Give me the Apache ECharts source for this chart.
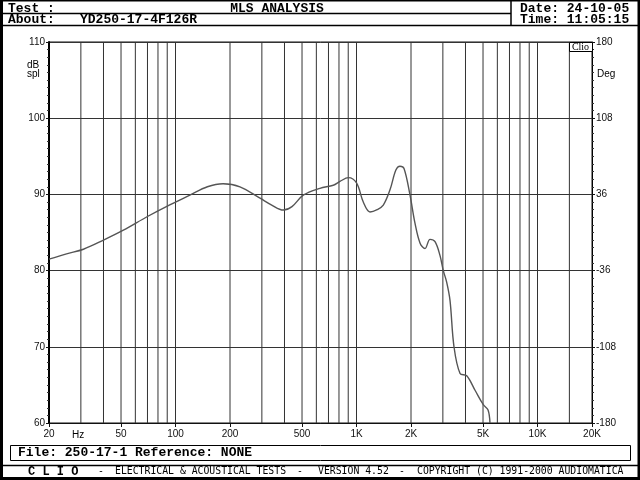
<!DOCTYPE html>
<html>
<head>
<meta charset="utf-8">
<script src="https://cdn.jsdelivr.net/npm/echarts@6/dist/echarts.min.js"></script>
<style>html,body{margin:0;padding:0;background:#fff}#c{width:640px;height:480px}</style>
</head>
<body>
<div id="c"></div>
<script>
// Frequency response data (Hz, dB SPL)
const freqs = [20,25,31,40,51.5,70,89,120,150,183,227,293,340,394,440,508,628,744,810,902,1000,1090,1187,1300,1406,1531,1650,1738,1830,1975,2105,2245,2390,2547,2715,2891,3017,3148,3285,3456,3733,4064,4517,5018,5330,5462];
const spl = [81.5,82.2,82.8,84.0,85.3,87.1,88.4,89.9,91.0,91.4,91.0,89.5,88.6,87.95,88.4,89.9,90.8,91.2,91.7,92.2,91.5,89.0,87.7,88.0,88.6,90.6,93.2,93.7,93.4,89.9,86.2,83.6,82.9,84.1,83.8,82.0,80.0,78.5,76.1,70.0,66.5,66.2,64.3,62.4,61.7,60.0];
// Axis tick labels
const xTickVals = [20,50,100,200,500,1000,2000,5000,10000,20000];
const xTickLabels = ['20','50','100','200','500','1K','2K','5K','10K','20K'];
const gridFreqs = [30,40,50,60,70,80,90,100,200,300,400,500,600,700,800,900,1000,2000,3000,4000,5000,6000,7000,8000,9000,10000,15000];
const yLeft = {min:60, max:110, interval:10};
const yRight = {min:-180, max:180, interval:72};
// Header / footer texts
const titleText = 'MLS ANALYSIS';
const aboutText = 'YD250-17-4F126R';
const dateText = 'Date: 24-10-05';
const timeText = 'Time: 11:05:15';
const fileText = 'File: 250-17-1 Reference: NONE';

const chart = echarts.init(document.getElementById('c'), null, {renderer:'canvas'});
const mono = 'bold 13px "Liberation Mono"';
const small = '9.8px "DejaVu Sans Mono"';

const labelMap = {};
xTickVals.forEach((v,i)=>labelMap[v]=xTickLabels[i]);

function txt(x,y,text,font,align){
  return {type:'text', x:x, y:y, z:100, silent:true,
    style:{text:text, font:font, fill:'#000', textAlign:align||'left', textVerticalAlign:'middle'}};
}
function ln(x1,y1,x2,y2,w){
  return {type:'line', z:100, silent:true, shape:{x1:x1,y1:y1,x2:x2,y2:y2}, style:{stroke:'#000', lineWidth:w||1}};
}
function box(x,y,w,h){
  return {type:'rect', z:101, silent:true, shape:{x:x,y:y,width:w,height:h}, style:{fill:'#000'}};
}

const gridSeries = gridFreqs.map(f=>({
  type:'line', yAxisIndex:0, data:[[f,yLeft.min],[f,yLeft.max]],
  showSymbol:false, silent:true, z:1,
  lineStyle:{color:'#333', width:1}
}));

chart.setOption({
  backgroundColor:'#fff',
  animation:false,
  grid:{left:49, right:48, top:42, bottom:57, show:true, borderColor:'#111', borderWidth:1, backgroundColor:'#fff'},
  xAxis:{
    type:'log', logBase:10, min:20, max:20000,
    axisLine:{show:true, onZero:false, lineStyle:{color:'#111', width:1}},
    axisTick:{show:true, length:4, inside:false, customValues:xTickVals, lineStyle:{color:'#111'}},
    axisLabel:{customValues:xTickVals, formatter:v=>labelMap[v]!==undefined?labelMap[v]:'', color:'#111', fontSize:10, fontFamily:'Liberation Sans', margin:6},
    splitLine:{show:false}
  },
  yAxis:[{
    type:'value', min:yLeft.min, max:yLeft.max, interval:yLeft.interval, position:'left',
    axisLine:{show:true, onZero:false, lineStyle:{color:'#000', width:2}},
    axisTick:{show:true, inside:false, length:3, lineStyle:{color:'#111'}},
    minorTick:{show:true, splitNumber:10, length:2, lineStyle:{color:'#333'}},
    axisLabel:{color:'#111', fontSize:10, fontFamily:'Liberation Sans', margin:4},
    splitLine:{show:true, lineStyle:{color:'#333', width:1}}
  },{
    type:'value', min:yRight.min, max:yRight.max, interval:yRight.interval, position:'right',
    axisLine:{show:true, onZero:false, lineStyle:{color:'#000', width:1}},
    axisTick:{show:true, inside:false, length:3, lineStyle:{color:'#111'}},
    minorTick:{show:true, splitNumber:10, length:2, lineStyle:{color:'#333'}},
    axisLabel:{color:'#111', fontSize:10, fontFamily:'Liberation Sans', margin:4},
    splitLine:{show:false}
  }],
  series:gridSeries.concat([{
    type:'line', yAxisIndex:0, data:freqs.map((f,i)=>[f,spl[i]]),
    showSymbol:false, smooth:0.35, clip:true, z:5,
    lineStyle:{color:'#555', width:1.4}
  }]),
  graphic:[
    box(0,0,640,1.5),
    box(0,0,3,480),
    box(637.5,0,2.5,480),
    box(0,477,640,3),
    ln(0,13.5,511,13.5,1.5),
    ln(0,25.5,640,25.5,1.5),
    ln(511,0,511,25,1.5),
    txt(8,8.5,'Test :',mono),
    txt(277,8.5,titleText,mono,'center'),
    txt(8,20,'About:',mono),
    txt(80,20,aboutText,mono),
    txt(520,8.5,dateText,mono),
    txt(520,20,timeText,mono),
    txt(27,65,'dB','10px "Liberation Sans"'),
    txt(27,74,'spl','10px "Liberation Sans"'),
    txt(597,74,'Deg','10px "Liberation Sans"'),
    txt(72,435,'Hz','10px "Liberation Sans"'),
    {type:'rect', z:100, silent:true, shape:{x:569.5,y:42.5,width:23,height:9}, style:{fill:'#fff', stroke:'#000', lineWidth:1}},
    txt(580.5,47.5,'Clio','10px "Liberation Serif"','center'),
    {type:'rect', z:100, silent:true, shape:{x:10.5,y:445.5,width:620,height:15}, style:{fill:'none', stroke:'#000', lineWidth:1}},
    txt(18,453,fileText,mono),
    ln(0,465.5,640,465.5,1.5),
    txt(28,471.5,'C L I O','bold 12px "Liberation Mono"'),
    txt(101,471.5,'-',small,'center'),
    txt(115,471.5,'ELECTRICAL & ACOUSTICAL TESTS',small),
    txt(300,471.5,'-',small,'center'),
    txt(318,471.5,'VERSION 4.52',small),
    txt(402,471.5,'-',small,'center'),
    txt(417,471.5,'COPYRIGHT (C) 1991-2000 AUDIOMATICA',small)
  ]
});
</script>
</body>
</html>
